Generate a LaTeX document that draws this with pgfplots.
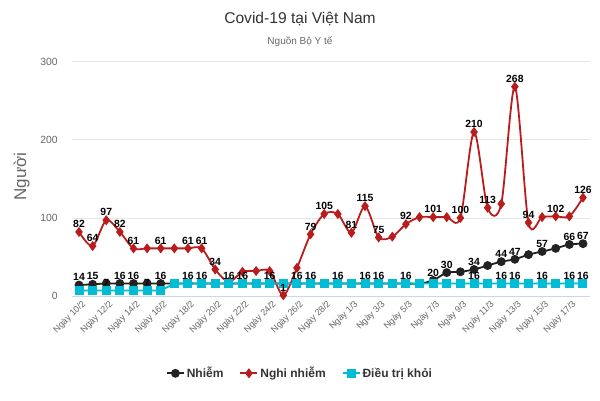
\documentclass[border=0pt]{standalone}
\usepackage{pgfplots}
\pgfplotsset{compat=1.18}
\usepackage{fontspec}
\setmainfont{Liberation Sans}
\definecolor{cred}{RGB}{185,28,28}
\definecolor{cblack}{RGB}{34,34,34}
\definecolor{ccyan}{RGB}{0,188,212}
\definecolor{tgray}{RGB}{102,102,102}
\definecolor{ttl}{RGB}{51,51,51}
\definecolor{gridc}{RGB}{230,230,230}
\definecolor{axc}{RGB}{204,214,235}
\newcommand\lblfont{\bfseries\fontsize{10.4}{12}\selectfont}
\begin{document}
\begin{tikzpicture}
\path[use as bounding box] (0pt,0pt) rectangle (600pt,400pt);
\node[text=ttl, font=\fontsize{15.6}{18}\selectfont] at (300pt,381pt) {Covid-19 tại Việt Nam};
\node[text=tgray, font=\fontsize{10}{12}\selectfont] at (300pt,358.3pt) {Nguồn Bộ Y tế};
\node[text=tgray, rotate=90, font=\fontsize{17}{20}\selectfont] at (21.7pt,223.3pt) {Người};
\begin{axis}[
  at={(72.2pt,104pt)}, anchor=south west,
  scale only axis, width=517.6pt, height=234.3pt,
  xmin=-0.5, xmax=37.5, ymin=0, ymax=300,
  clip=false,
  axis x line*=bottom, axis y line*=left,
  x axis line style={-, draw=axc, line width=1pt},
  y axis line style={-, draw=none},
  ytick={0,100,200,300},
  ymajorgrids, grid style={gridc, line width=0.8pt},
  xtick={0,2,...,36},
  xticklabels={Ngày 10/2, Ngày 12/2, Ngày 14/2, Ngày 16/2, Ngày 18/2, Ngày 20/2, Ngày 22/2, Ngày 24/2, Ngày 26/2, Ngày 28/2, Ngày 1/3, Ngày 3/3, Ngày 5/3, Ngày 7/3, Ngày 9/3, Ngày 11/3, Ngày 13/3, Ngày 15/3, Ngày 17/3},
  xtick style={draw=none}, ytick style={draw=none},
  major tick length=0pt,
  /pgf/number format/assume math mode=true,
  xticklabel style={rotate=45, anchor=north east, text=tgray, font=\fontsize{9}{11}\selectfont, inner sep=1pt, yshift=-3pt},
  yticklabel style={text=tgray, font=\fontsize{10.4}{12}\selectfont, xshift=-11pt},
  legend style={at={(0.44,-0.33)}, anchor=center, legend columns=3, draw=none, fill=none,
    font=\bfseries\fontsize{12}{14}\selectfont, text=ttl,
    /tikz/every even column/.append style={column sep=14pt}},
  nodes near coords style={font=\lblfont, text=black, inner sep=1pt, yshift=3pt},
]
\addplot[cblack, line width=1.8pt, smooth, mark=*, mark size=3.5pt, mark options={fill=cblack, draw=cblack}]
coordinates {(0,14)(1,15)(2,16)(3,16)(4,16)(5,16)(6,16)(7,16)(8,16)(9,16)(10,16)(11,16)(12,16)(13,16)(14,16)(15,16)(16,16)(17,16)(18,16)(19,16)(20,16)(21,16)(22,16)(23,16)(24,16)(25,16)(26,20)(27,30)(28,31)(29,34)(30,39)(31,44)(32,47)(33,53)(34,57)(35,61)(36,66)(37,67)};
\addlegendentry{Nhiễm}
\addplot[cred, line width=1.8pt, smooth, mark=diamond*, mark size=3.6pt, mark options={fill=cred, draw=cred}]
coordinates {(0,82)(1,64)(2,97)(3,82)(4,61)(5,61)(6,61)(7,61)(8,61)(9,61)(10,34)(11,18)(12,31)(13,32)(14,32)(15,1)(16,36)(17,79)(18,105)(19,105)(20,81)(21,115)(22,75)(23,76)(24,92)(25,101)(26,101)(27,101)(28,100)(29,210)(30,113)(31,118)(32,268)(33,94)(34,101)(35,102)(36,102)(37,126)};
\addlegendentry{Nghi nhiễm}
\addplot[ccyan, line width=1.8pt, mark=square*, mark size=3.6pt, mark options={fill=ccyan, draw=ccyan}]
coordinates {(0,7)(1,7)(2,7)(3,7)(4,7)(5,7)(6,7)(7,16)(8,16)(9,16)(10,16)(11,16)(12,16)(13,16)(14,16)(15,16)(16,16)(17,16)(18,16)(19,16)(20,16)(21,16)(22,16)(23,16)(24,16)(25,16)(26,16)(27,16)(28,16)(29,16)(30,16)(31,16)(32,16)(33,16)(34,16)(35,16)(36,16)(37,16)};
\addlegendentry{Điều trị khỏi}
% data labels
\addplot[draw=none, mark=none, forget plot, nodes near coords, point meta=explicit symbolic]
coordinates {(0,14)[14](1,15)[15](3,16)[16](4,16)[16](6,16)[16](8,16)[16](9,16)[16](11,16)[16](12,16)[16](14,16)[16](16,16)[16](17,16)[16](19,16)[16](21,16)[16](22,16)[16](24,16)[16](26,20)[20](27,30)[30](29,34)[34](31,44)[44](32,47)[47](34,57)[57](36,66)[66](37,67)[67]};
\addplot[draw=none, mark=none, forget plot, nodes near coords, point meta=explicit symbolic]
coordinates {(2,7)[7](5,7)[7](29,16)[16](31,16)[16](32,16)[16](34,16)[16](36,16)[16](37,16)[16]};
\addplot[draw=none, mark=none, forget plot, nodes near coords, point meta=explicit symbolic]
coordinates {(0,82)[82](1,64)[64](2,97)[97](3,82)[82](4,61)[61](6,61)[61](8,61)[61](9,61)[61](10,34)[34](15,1)[1](17,79)[79](18,105)[105](20,81)[81](21,115)[115](22,75)[75](24,92)[92](26,101)[101](28,100)[100](29,210)[210](30,113)[113](32,268)[268](33,94)[94](35,102)[102](37,126)[126]};
\end{axis}
\end{tikzpicture}
\end{document}
